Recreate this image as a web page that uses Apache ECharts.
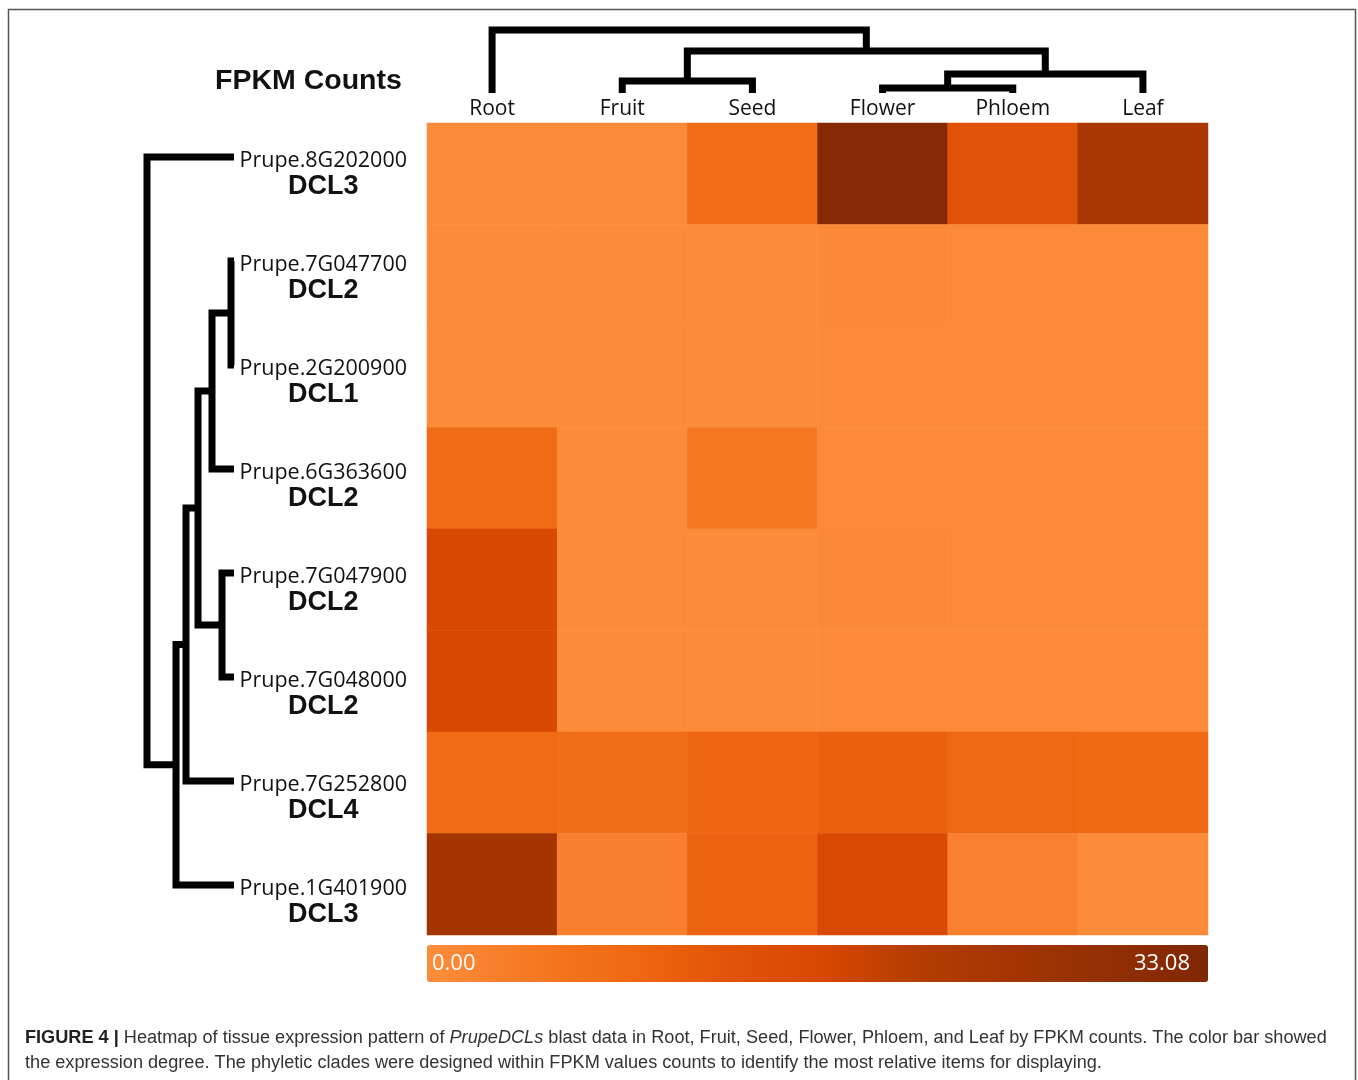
<!DOCTYPE html>
<html>
<head>
<meta charset="utf-8">
<script src="https://cdn.jsdelivr.net/npm/echarts@6/dist/echarts.min.js"></script>
<style>html,body{margin:0;padding:0;background:#fff;}#c{width:1358px;height:1080px;}</style>
</head>
<body>
<div id="c"></div>
<script>
// ---- data ----
const tissues = ['Root', 'Fruit', 'Seed', 'Flower', 'Phloem', 'Leaf'];
const geneIds = ['Prupe.8G202000', 'Prupe.7G047700', 'Prupe.2G200900', 'Prupe.6G363600',
                 'Prupe.7G047900', 'Prupe.7G048000', 'Prupe.7G252800', 'Prupe.1G401900'];
const geneFamilies = ['DCL3', 'DCL2', 'DCL1', 'DCL2', 'DCL2', 'DCL2', 'DCL4', 'DCL3'];
// FPKM per tissue, in gene order
const rootValues   = [0.5, 0.4, 0.4, 8.0, 16.6, 16.6, 8.1, 24.6];
const fruitValues  = [0.5, 0.4, 0.4, 0.4, 0.4, 0.4, 7.3, 2.8];
const seedValues   = [7.4, 0.4, 0.5, 5.0, 0.5, 0.5, 9.0, 9.6];
const flowerValues = [32.0, 0.8, 0.6, 0.6, 0.8, 0.7, 10.3, 16.3];
const phloemValues = [13.4, 0.6, 0.6, 0.7, 0.7, 0.7, 8.8, 2.6];
const leafValues   = [23.7, 0.7, 0.6, 0.7, 0.7, 0.7, 8.3, 0.4];
const scaleMin = 0.00;
const scaleMax = 33.08;
// dendrogram linkages: [childA, childB, mergeHeight]; new node ids follow the leaves
const rowLinkage = [[1, 2, 3], [4, 5, 12], [8, 3, 22], [10, 9, 36], [11, 6, 48], [12, 7, 58], [0, 13, 87]];
const colLinkage = [[3, 4, 5], [1, 2, 12], [6, 5, 19], [7, 8, 42], [0, 9, 63]];

// ---- build ----
const valueColumns = [rootValues, fruitValues, seedValues, flowerValues, phloemValues, leafValues];
const heatData = [];
valueColumns.forEach((col, x) => col.forEach((v, y) => heatData.push([x, y, v])));

function buildSegments(linkage, nLeaves) {
  const pos = [], h = [], segs = [];
  for (let i = 0; i < nLeaves; i++) { pos[i] = i; h[i] = 0; }
  linkage.forEach(([a, b, hm], k) => {
    const id = nLeaves + k;
    segs.push([pos[a], h[a], pos[b], h[b], hm]);
    pos[id] = (pos[a] + pos[b]) / 2;
    h[id] = hm;
  });
  return segs;
}
const rowSegs = buildSegments(rowLinkage, geneIds.length);
const colSegs = buildSegments(colLinkage, tissues.length);
const rowLabels = geneIds.map((g, i) => g + '\n' + geneFamilies[i]);

const lineStyle = { stroke: '#000', lineWidth: 7, fill: 'none', lineJoin: 'miter', lineCap: 'butt' };

const chart = echarts.init(document.getElementById('c'), null, { renderer: 'canvas' });
chart.setOption({
  animation: false,
  backgroundColor: '#fff',
  title: {
    text: 'FPKM Counts', left: 215, top: 67, padding: 0,
    textStyle: { fontFamily: 'Liberation Sans', fontWeight: 'bold', fontSize: 28.5, color: '#111' }
  },
  grid: [
    { left: 427, top: 123, width: 781, height: 812 },
    { left: 147, top: 105, width: 87, height: 832 },
    { left: 407, top: 122, width: 1, height: 832 },
    { left: 427, top: 30, width: 781, height: 63 }
  ],
  xAxis: [
    { gridIndex: 0, type: 'category', data: tissues, position: 'top',
      axisLine: { show: false }, axisTick: { show: false }, splitLine: { show: false },
      axisLabel: { margin: 3, fontFamily: 'Open Sans', fontSize: 21, color: '#111' } },
    { gridIndex: 1, type: 'value', min: 0, max: 87, inverse: true, show: false },
    { gridIndex: 2, type: 'value', min: 0, max: 1, show: false },
    { gridIndex: 3, type: 'value', min: -0.5, max: 5.5, show: false }
  ],
  yAxis: [
    { gridIndex: 0, type: 'category', data: geneIds, inverse: true, show: false },
    { gridIndex: 1, type: 'value', min: -0.5, max: 7.5, inverse: true, show: false },
    { gridIndex: 2, type: 'category', data: rowLabels, inverse: true,
      axisLine: { show: false }, axisTick: { show: false }, splitLine: { show: false },
      axisLabel: {
        margin: 0,
        formatter: function (v) {
          const p = v.split('\n');
          return '{g|' + p[0] + '}\n{f|' + p[1] + '}';
        },
        rich: {
          g: { fontFamily: 'Open Sans', fontSize: 21.5, color: '#111', align: 'center', lineHeight: 26 },
          f: { fontFamily: 'Liberation Sans', fontWeight: 'bold', fontSize: 27, color: '#111', align: 'center', lineHeight: 26 }
        }
      } },
    { gridIndex: 3, type: 'value', min: 0, max: 63, show: false }
  ],
  visualMap: {
    type: 'continuous', seriesIndex: 0, min: scaleMin, max: scaleMax,
    orient: 'horizontal', left: 427, top: 945, itemWidth: 37, itemHeight: 781,
    calculable: false, padding: 0, text: null, showLabel: false, hoverLink: false,
    inRange: { color: ['#FD8D3C', '#F67A24', '#F06A14', '#E25508', '#D94801', '#B53D03', '#A33503', '#922F04', '#7F2704'] }
  },
  graphic: [
    { type: 'rect', silent: true, shape: { x: 8.5, y: 9.5, width: 1347, height: 1200 },
      style: { fill: 'none', stroke: '#555', lineWidth: 1.5 } },
    { type: 'text', left: 432, top: 953, silent: true, z: 100,
      style: { text: scaleMin.toFixed(2), fill: '#fff', font: '22px "Open Sans"' } },
    { type: 'text', right: 1358 - 1190, top: 953, silent: true, z: 100,
      style: { text: scaleMax.toFixed(2), fill: '#fff', font: '22px "Open Sans"' } },
    { type: 'text', left: 25, top: 1025, silent: true,
      style: {
        text: '{b|FIGURE 4 |} Heatmap of tissue expression pattern of {i|PrupeDCLs} blast data in Root, Fruit, Seed, Flower, Phloem, and Leaf by FPKM counts. The color bar showed\nthe expression degree. The phyletic clades were designed within FPKM values counts to identify the most relative items for displaying.',
        fill: '#333', fontFamily: 'Liberation Sans', fontSize: 18.15, lineHeight: 25,
        rich: {
          b: { fontFamily: 'Liberation Sans', fontWeight: 'bold', fontSize: 18.15, fill: '#222', lineHeight: 25 },
          i: { fontFamily: 'Liberation Sans', fontStyle: 'italic', fontSize: 18.15, fill: '#333', lineHeight: 25 }
        }
      } }
  ],
  series: [
    { type: 'heatmap', xAxisIndex: 0, yAxisIndex: 0, data: heatData, silent: true,
      itemStyle: { borderWidth: 0 }, emphasis: { disabled: true } },
    { type: 'custom', xAxisIndex: 1, yAxisIndex: 1, data: rowSegs, silent: true, clip: false,
      renderItem: function (params, api) {
        const pA = api.value(0), hA = api.value(1), pB = api.value(2), hB = api.value(3), hM = api.value(4);
        return { type: 'polyline', shape: { points: [api.coord([hA, pA]), api.coord([hM, pA]), api.coord([hM, pB]), api.coord([hB, pB])] }, style: lineStyle };
      } },
    { type: 'custom', xAxisIndex: 3, yAxisIndex: 3, data: colSegs, silent: true, clip: false,
      renderItem: function (params, api) {
        const pA = api.value(0), hA = api.value(1), pB = api.value(2), hB = api.value(3), hM = api.value(4);
        return { type: 'polyline', shape: { points: [api.coord([pA, hA]), api.coord([pA, hM]), api.coord([pB, hM]), api.coord([pB, hB])] }, style: lineStyle };
      } }
  ]
});
</script>
</body>
</html>
